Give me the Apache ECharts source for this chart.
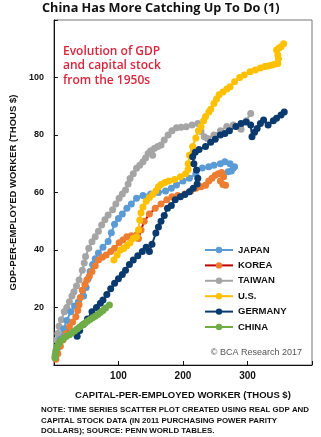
<!DOCTYPE html>
<html><head><meta charset="utf-8">
<script src="https://cdn.jsdelivr.net/npm/echarts@6/dist/echarts.min.js"></script>
<style>html,body{margin:0;padding:0;background:#fff}#c{width:321px;height:437px}</style>
</head><body><div id="c"></div>
<script>
const title = "China Has More Catching Up To Do (1)";
const xTicks = [100, 200, 300];
const yTicks = [20, 40, 60, 80, 100];
const seriesNames = ["JAPAN", "KOREA", "TAIWAN", "U.S.", "GERMANY", "CHINA"];

const taiwan = [[2,3],[3,5],[4,8.7],[6,11],[8,13.5],[11.5,15.7],[16,18.5],[20,20],[24,22],[28,24],[31,25.5],[35,27.5],[39,29.6],[44,33],[47,35.5],[49,37.7],[54,40.6],[59,42.9],[64,44.6],[69,46.5],[74,48.7],[79,50.5],[84,52.2],[91,54],[96,56],[101,58],[106,59.5],[111,60.9],[115,63],[118,64.9],[123,66.5],[128,68.4],[133,69.5],[138,70.7],[142,72],[146,73.6],[150,74.5],[153,73],[156,75.4],[161,76],[166,76.5],[171,78.3],[177,80],[183,81.5],[190,82.5],[197,82.7],[205,82.9],[214,83.5],[223,84],[228,81.2],[233,79.4],[238,78.8],[248,80],[258,81.5],[268,83],[278,83.5],[290,82],[298,85],[305,87.5]];
const japan = [[3,3],[6,6],[10,9],[15,12.5],[20,15.5],[26,18.5],[32,20.5],[38,22],[46,24],[50,27],[53,30],[56,32.5],[60,35],[64,37],[69,39],[76,41],[84,43],[89,46],[94,49],[100,51],[106,52.5],[113,54.5],[120,56],[128,58],[138,59],[150,59.5],[162,60],[173,60.5],[182,61.5],[190,62.6],[200,64],[210,65],[220,66.5],[230,68.5],[240,69],[248,69.5],[258,70],[265,70.7],[273,70],[280,69],[275,67.5],[270,67.2],[278,68.5]];
const korea = [[3,2],[6,4],[10,6.5],[14,8.7],[19,11],[24,13.3],[29,15],[34,16.8],[37,19],[39,21],[41,23.5],[44,26],[48,28],[51,29.6],[55,31],[59,32.5],[64,34.5],[69,36.5],[75,37.5],[81,38.3],[88,39.5],[94,40.6],[101,42.5],[107,43.5],[113,44.6],[120,45],[128,45.2],[131,44],[135,47],[140,50],[148,52.5],[157,54.5],[166,56],[175,57.5],[183,58.5],[192,59],[203,59.5],[212,60.5],[220,61.5],[228,62],[235,62.5],[240,64],[245,65],[250,66],[255,66.5],[260,67],[263,65.5],[258,64],[262,62.8],[266,62.5]];
const us = [[93,36.5],[98,38.3],[103,40],[108,40.5],[113,41.5],[118,42.5],[123,44],[128,44.5],[131,47],[133,50.4],[135,53],[138,55],[143,57],[148,58.3],[153,59.3],[158,60.5],[162,62],[166,62.8],[172,63.5],[178,64],[187,64.5],[196,65.5],[204,66.5],[208,68],[208,70],[210,73],[215,76],[220,79],[224,81.5],[228,83],[232,85],[235,86.4],[240,88],[243,89],[248,91],[252,92.5],[256,94],[262,95],[268,96],[273,96.8],[280,98.5],[288,100],[295,100.9],[304,102],[312,102.6],[320,103.3],[327,103.8],[332,104],[337,104.3],[342,104.6],[347,104.9],[348,106.5],[347,107.8],[345,109.6],[349,110.3],[352,110.7],[356,111.7]];
const germany = [[36,10],[40,12],[45,14],[52,16],[59,18.5],[66,20],[72,21.5],[76,22.6],[82,24.5],[88,26.5],[94,28.4],[100,30],[106,31.5],[111,33],[117,35],[123,36.5],[130,38],[137,39.5],[143,41],[148,39.5],[152,42],[158,45.9],[162,48],[166,50],[171,52],[176,54.5],[182,55.5],[188,57.5],[196,58.5],[203,59.3],[210,60.3],[216,61.5],[222,63],[223,65],[221,67.8],[217,70],[215,72.4],[219,74],[225,75],[235,76],[243,77.5],[250,78.5],[258,80],[265,80.5],[272,81.5],[282,83],[290,84],[298,84.5],[305,83.5],[307,79.4],[311,81],[315,82.3],[320,84],[325,85.2],[332,83.5],[340,85],[345,85.8],[352,87],[357,88]];
const china = [[1.5,2.5],[2,3.5],[3,4.5],[4,5.5],[5,6.5],[7,7.2],[9,8],[12,8.7],[15,9.3],[19,9.9],[24,10.5],[28,11.2],[32,11.8],[36,12.5],[40,13.2],[44,13.9],[48,14.5],[52,15.2],[56,15.8],[60,16.4],[64,17],[68,17.6],[72,18.3],[76,19],[80,19.8],[86,20.9]];

const chart = echarts.init(document.getElementById('c'), null, {renderer: 'canvas'});
const mk = (name, data, mColor, lColor) => ({
  name, type: 'line', data, symbol: 'circle', symbolSize: 7, showSymbol: true,
  itemStyle: {color: mColor}, lineStyle: {color: lColor, width: 2}, animation: false
});
const font = 'Liberation Sans, Arial, sans-serif';
chart.setOption({
  animation: false,
  title: {text: title, left: 42, top: 2, padding: 0, textStyle: {fontFamily: 'Open Sans', fontWeight: 'bold', fontSize: 12.7, color: '#111'}},
  grid: {left: 44, top: 20, right: 9, bottom: 72, show: true, borderColor: '#777', borderWidth: 1},
  xAxis: {type: 'value', min: 0, max: 400, interval: 100,
    name: 'CAPITAL-PER-EMPLOYED WORKER (THOUS $)', nameLocation: 'middle', nameGap: 25,
    nameTextStyle: {fontFamily: font, fontWeight: 'bold', fontSize: 9.5, color: '#111'},
    axisLine: {lineStyle: {color: '#111', width: 1}}, axisTick: {inside: true, length: 4, lineStyle: {color: '#111'}},
    splitLine: {show: false}, showMinLabel: false, showMaxLabel: false,
    axisLabel: {fontFamily: font, fontWeight: 'bold', fontSize: 10, color: '#111', margin: 6,
      formatter: v => xTicks.includes(v) ? String(v) : ''}},
  yAxis: {type: 'value', min: 0, max: 120, interval: 20,
    name: 'GDP-PER-EMPLOYED WORKER (THOUS $)', nameLocation: 'middle', nameGap: 28, nameRotate: 90,
    nameTextStyle: {fontFamily: font, fontWeight: 'bold', fontSize: 9.5, color: '#111'},
    axisLine: {show: true, lineStyle: {color: '#111', width: 1}}, axisTick: {show: true, inside: true, length: 4, lineStyle: {color: '#111'}},
    splitLine: {show: false}, showMinLabel: false, showMaxLabel: false,
    axisLabel: {fontFamily: font, fontWeight: 'bold', fontSize: 9, color: '#111', margin: 10,
      formatter: v => yTicks.includes(v) ? String(v) : ''}},
  legend: {orient: 'vertical', left: 199, top: 239, itemWidth: 28, itemHeight: 8, itemGap: 3.4,
    data: seriesNames, textStyle: {fontFamily: font, fontWeight: 'bold', fontSize: 9.5, color: '#111', lineHeight: 12}},
  series: [
    mk('TAIWAN', taiwan, '#a5a5a5', '#a5a5a5'),
    mk('JAPAN', japan, '#5b9bd5', '#5b9bd5'),
    mk('KOREA', korea, '#ed7d31', '#c00000'),
    mk('U.S.', us, '#ffc000', '#ffc000'),
    mk('GERMANY', germany, '#0b3a6e', '#0b3a6e'),
    mk('CHINA', china, '#70ad47', '#70ad47')
  ],
  graphic: [
    {type: 'text', left: 63, top: 44, style: {text: 'Evolution of GDP\nand capital stock\nfrom the 1950s', fill: '#d9263c', font: '600 12px "Open Sans", sans-serif', lineHeight: 14.5}},
    {type: 'text', right: 19, top: 348, style: {text: '© BCA Research 2017', fill: '#555', font: '9px ' + font}},
    {type: 'text', left: 41, top: 405, style: {text: 'NOTE: TIME SERIES SCATTER PLOT CREATED USING REAL GDP AND\nCAPITAL STOCK DATA (IN 2011 PURCHASING POWER PARITY\nDOLLARS); SOURCE: PENN WORLD TABLES.', fill: '#111', font: 'bold 7.9px ' + font, lineHeight: 10.3}}
  ]
});
</script></body></html>
